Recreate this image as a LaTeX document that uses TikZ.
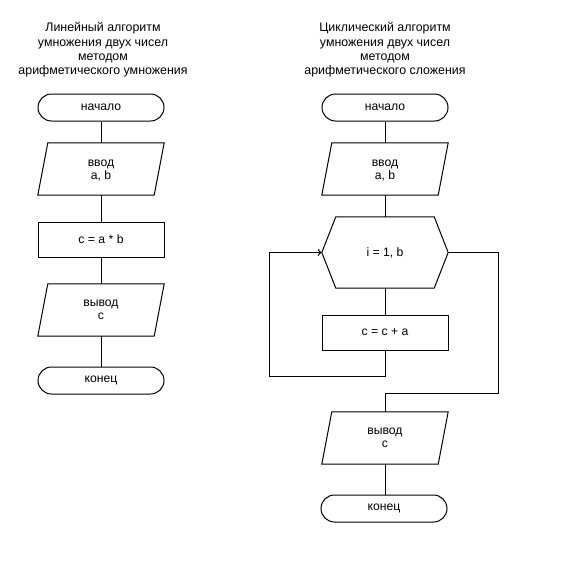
\documentclass[tikz,border=0pt]{standalone}
\usepackage{fontspec}
\setmainfont{Liberation Sans}
\usetikzlibrary{arrows.meta,calc}
\newcommand{\topstrut}{\rule{0pt}{9.5pt}}
\begin{document}
\begin{tikzpicture}[x=1pt,y=-1pt,
  every node/.style={font=\fontsize{12.2}{13.5}\selectfont, align=center, inner sep=0pt},
  lw/.style={line width=1pt, line join=miter},
  term/.style={draw, lw, rounded corners=13.5pt, minimum width=126pt, minimum height=27pt},
  procbox/.style={draw, lw, minimum width=126pt, minimum height=35pt},
  iobox/.style={minimum width=116pt, minimum height=52pt},
  hexbox/.style={minimum width=126pt, minimum height=71pt},
  ttl/.style={font=\fontsize{12.4}{14.3}\selectfont}
]
\useasboundingbox (0,0) rectangle (574,563);

% ---------- left ----------
\node[ttl] (t1) at (103,50) {Линейный алгоритм\\умножения двух чисел\\методом\\арифметического умножения};
\node[term] (s1) at (101,107.5) {начало};
\node[iobox] (i1) at (101,169) {\topstrut ввод\\a, b};
\node[procbox] (p1) at (101,239.5) {c = a * b};
\node[iobox] (o1) at (101,310) {вывод\\c};
\node[term] (e1) at (101,380.5) {конец};

\foreach \n in {i1,o1}{
  \draw[lw] ([xshift=5pt]\n.north west) -- ([xshift=5pt]\n.north east)
    -- ([xshift=-5pt]\n.south east) -- ([xshift=-5pt]\n.south west) -- cycle;
}
\draw[lw] (s1) -- (i1);
\draw[lw] (i1) -- (p1);
\draw[lw] (p1) -- (o1);
\draw[lw] (o1) -- (e1);

% ---------- right ----------
\node[ttl] (t2) at (385,50) {Циклический алгоритм\\умножения двух чисел\\методом\\арифметического сложения};
\node[term] (s2) at (385,107.5) {начало};
\node[iobox] (i2) at (385,169) {\topstrut ввод\\a, b};
\node[hexbox] (h2) at (385,252.5) {i = 1, b};
\node[procbox] (p2) at (385,332.5) {c = c + a};
\node[iobox] (o2) at (385,438) {вывод\\c};
\node[term] (e2) at (384,508.5) {конец};

\foreach \n in {i2,o2}{
  \draw[lw] ([xshift=5pt]\n.north west) -- ([xshift=5pt]\n.north east)
    -- ([xshift=-5pt]\n.south east) -- ([xshift=-5pt]\n.south west) -- cycle;
}
\draw[lw] (h2.west) -- ([xshift=14pt]h2.north west) -- ([xshift=-14pt]h2.north east)
  -- (h2.east) -- ([xshift=-14pt]h2.south east) -- ([xshift=14pt]h2.south west) -- cycle;

\coordinate (lb) at (269,376);
\coordinate (ex) at (498,393);
\draw[lw] (s2) -- (i2);
\draw[lw] (i2) -- (h2);
\draw[lw] (h2) -- (p2);
\draw[lw, -{To[length=4pt,width=7pt]}] (p2.south) |- (lb) |- (h2.west);
\draw[lw] (h2.east) -| (ex) -| (o2.north);
\draw[lw] (o2.south) -- (o2.south |- e2.north);
\end{tikzpicture}
\end{document}
